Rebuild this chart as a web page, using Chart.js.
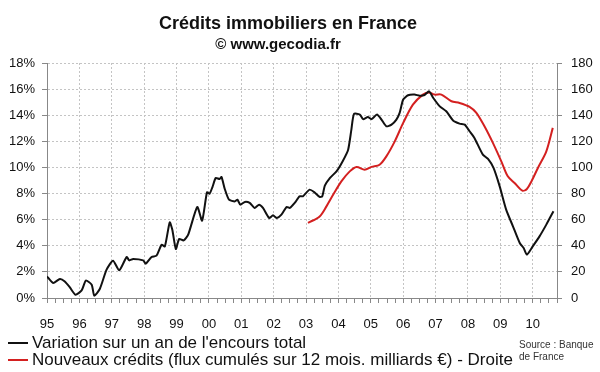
<!doctype html>
<html lang="fr">
<head>
  <meta charset="utf-8">
  <title>Crédits immobiliers en France</title>
  <script src="https://cdn.jsdelivr.net/npm/chart.js/dist/chart.umd.min.js"></script>
  <style>
    body { margin: 0; background: #fff; }
    canvas { display: block; }
  </style>
</head>
<body>
  <canvas id="myChart" width="600" height="372"></canvas>
  <script>
    // libellés des années sur l'axe horizontal
    const yearLabels = ['95','96','97','98','99','00','01','02','03','04','05','06','07','08','09','10'];

    // Variation sur un an de l'encours total (%), axe gauche
    const varDates = [1995.00,1995.19,1995.40,1995.55,1995.70,1995.88,1996.07,1996.20,1996.38,1996.46,1996.63,1996.84,
      1997.04,1997.23,1997.46,1997.54,1997.66,1997.97,1998.05,1998.23,1998.38,1998.54,1998.64,1998.79,1998.87,1998.98,
      1999.08,1999.22,1999.36,1999.64,1999.79,1999.94,2000.02,2000.11,2000.21,2000.33,2000.39,2000.49,2000.62,2000.80,
      2000.88,2000.97,2001.11,2001.26,2001.41,2001.55,2001.67,2001.86,2001.98,2002.10,2002.24,2002.40,2002.50,2002.65,
      2002.80,2002.90,2003.11,2003.26,2003.42,2003.50,2003.58,2003.74,2003.94,2004.14,2004.30,2004.40,2004.48,2004.66,
      2004.76,2004.91,2005.02,2005.19,2005.33,2005.48,2005.64,2005.79,2005.89,2006.00,2006.15,2006.35,2006.51,2006.66,
      2006.80,2006.93,2007.13,2007.33,2007.54,2007.74,2007.90,2008.05,2008.20,2008.46,2008.62,2008.79,2008.98,2009.18,
      2009.39,2009.60,2009.72,2009.82,2010.00,2010.21,2010.42,2010.64];
    const varValues = [1.65,1.15,1.46,1.27,0.84,0.25,0.58,1.33,1.02,0.18,0.69,2.17,
      2.86,2.12,3.14,2.88,2.99,2.88,2.63,3.14,3.24,4.08,3.95,5.79,5.23,3.75,
      4.52,4.41,4.85,6.97,5.92,8.09,7.99,8.50,9.19,9.12,9.27,8.35,7.53,7.40,
      7.53,7.15,7.36,7.28,6.90,7.15,6.90,6.13,6.33,6.13,6.38,6.97,6.90,7.28,
      7.79,7.79,8.30,8.09,7.74,7.79,8.60,9.20,9.70,10.52,11.36,12.90,14.10,14.05,
      13.70,13.87,13.70,14.05,13.66,13.15,13.28,13.66,14.18,15.20,15.53,15.58,15.50,15.55,
      15.83,15.32,14.68,14.30,13.60,13.36,13.28,12.77,12.26,10.98,10.65,9.96,8.55,6.77,
      5.49,4.21,3.83,3.32,3.95,4.72,5.62,6.64];

    // Nouveaux crédits, flux cumulés sur 12 mois (milliards €), axe droit
    const fluxDates = [2003.06,2003.42,2003.63,2003.84,2004.09,2004.35,2004.56,2004.81,2005.02,2005.27,2005.48,2005.74,
      2006.00,2006.30,2006.61,2006.80,2006.97,2007.18,2007.49,2007.74,2008.05,2008.26,2008.51,2008.77,2009.03,2009.23,
      2009.44,2009.68,2009.82,2009.96,2010.16,2010.42,2010.62];
    const fluxValues = [57.5,62.5,70.2,79.2,89.3,97.0,100.4,98.3,100.4,102.1,108.5,120.0,
      134.1,148.1,155.8,157.5,155.8,155.8,150.7,149.4,146.4,141.8,131.5,118.8,104.7,93.2,
      88.1,82.2,83.5,89.3,99.6,112.3,130.3];

    const legendItems = [
      { text: "Variation sur un an de l'encours total", color: '#111' },
      { text: 'Nouveaux crédits (flux cumulés sur 12 mois. milliards €) - Droite', color: '#d42020' }
    ];

    Chart.defaults.font.family = '"Liberation Sans", Arial, sans-serif';
    Chart.defaults.color = '#111';

    const firstYear = 1995;
    const quarterTicks = [];
    yearLabels.forEach((l, i) => {
      for (let q = 0; q < 4; q++) quarterTicks.push(firstYear + i + q / 4);
    });

    const decor = {
      id: 'decor',
      beforeDraw(chart) {
        const ctx = chart.ctx;
        ctx.save();
        ctx.fillStyle = '#fff';
        ctx.fillRect(0, 0, chart.width, chart.height);
        ctx.restore();
      },
      afterDraw(chart) {
        const ctx = chart.ctx;
        ctx.save();
        ctx.fillStyle = '#111';
        ctx.textAlign = 'center';
        ctx.textBaseline = 'middle';
        ctx.font = 'bold 18px "Liberation Sans", Arial, sans-serif';
        ctx.fillText('Crédits immobiliers en France', 288, 24);
        ctx.font = 'bold 15px "Liberation Sans", Arial, sans-serif';
        ctx.fillText('© www.gecodia.fr', 278, 45);

        // légende
        ctx.textAlign = 'left';
        ctx.font = '17px "Liberation Sans", Arial, sans-serif';
        legendItems.forEach((it, i) => {
          const y = 343 + i * 17;
          ctx.strokeStyle = it.color;
          ctx.lineWidth = 2;
          ctx.beginPath();
          ctx.moveTo(8, y);
          ctx.lineTo(28, y);
          ctx.stroke();
          ctx.fillStyle = '#111';
          ctx.fillText(it.text, 32, y);
        });

        ctx.font = '10px "Liberation Sans", Arial, sans-serif';
        ctx.fillStyle = '#333';
        ctx.fillText('Source : Banque', 519, 345);
        ctx.fillText('de France', 519, 357);
        ctx.restore();
      }
    };

    new Chart(document.getElementById('myChart'), {
      type: 'line',
      data: {
        datasets: [{
          label: legendItems[0].text,
          data: varDates.map((d, i) => ({ x: d, y: varValues[i] })),
          borderColor: '#111',
          borderWidth: 2,
          pointRadius: 0,
          tension: 0.2,
          yAxisID: 'y'
        }, {
          label: legendItems[1].text,
          data: fluxDates.map((d, i) => ({ x: d, y: fluxValues[i] })),
          borderColor: '#d42020',
          borderWidth: 2,
          pointRadius: 0,
          tension: 0.3,
          yAxisID: 'y2'
        }]
      },
      options: {
        responsive: false,
        animation: false,
        devicePixelRatio: 1,
        layout: { padding: { top: 63, bottom: 38, left: 0, right: 0 } },
        plugins: {
          legend: { display: false },
          tooltip: { enabled: false }
        },
        scales: {
          x: {
            type: 'linear',
            min: 1995,
            max: 2010.75,
            afterBuildTicks: (scale) => { scale.ticks = quarterTicks.map(v => ({ value: v })); },
            afterFit: (scale) => { scale.height = 36; },
            ticks: {
              autoSkip: false,
              maxRotation: 0,
              padding: 14,
              font: { size: 13 },
              callback: (v) => Number.isInteger(v) ? yearLabels[v - firstYear] : ''
            },
            grid: {
              color: (c) => (c.tick && Number.isInteger(c.tick.value)) ? '#c4c4c4' : 'rgba(0,0,0,0)',
              tickColor: '#888',
              tickLength: 5,
              tickBorderDash: []
            },
            border: { color: '#888', dash: [2, 2] }
          },
          y: {
            position: 'left',
            min: 0,
            max: 18,
            afterFit: (scale) => { scale.width = 47; },
            ticks: { stepSize: 2, padding: 7, font: { size: 13 }, callback: (v) => v + '%' },
            grid: { color: '#c4c4c4', tickColor: '#888', tickLength: 5, tickBorderDash: [] },
            border: { color: '#888', dash: [2, 2] }
          },
          y2: {
            position: 'right',
            min: 0,
            max: 180,
            afterFit: (scale) => { scale.width = 43; },
            ticks: { stepSize: 20, padding: 9, font: { size: 13 } },
            grid: { drawOnChartArea: false, tickColor: '#888', tickLength: 5 },
            border: { color: '#888' }
          }
        }
      },
      plugins: [decor]
    });
  </script>
</body>
</html>
